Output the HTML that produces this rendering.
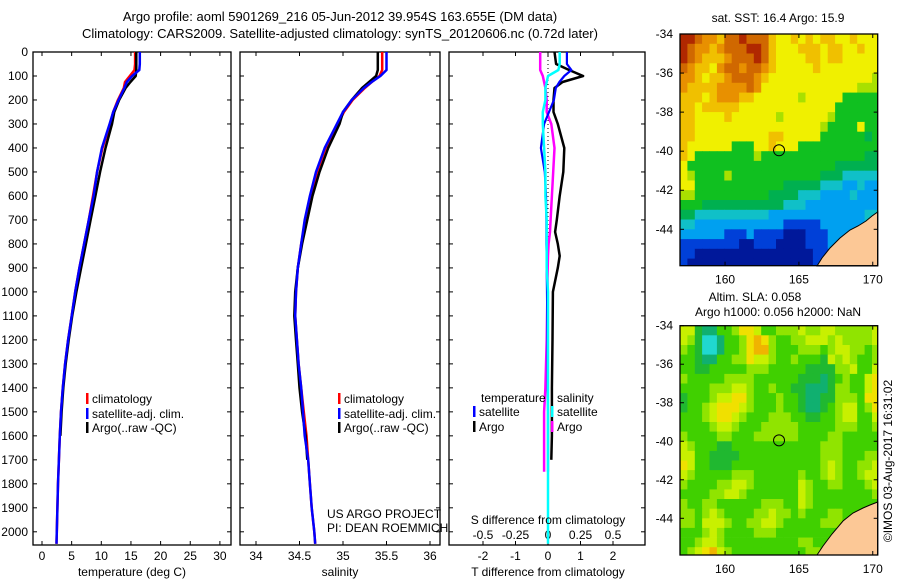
<!DOCTYPE html>
<html><head><meta charset="utf-8">
<style>
html,body{margin:0;padding:0;background:#fff;}
svg{display:block;font-family:"Liberation Sans",sans-serif;}
text{font-size:12px;fill:#000;}
</style></head>
<body>
<svg id="fig" width="900" height="580" viewBox="0 0 900 580" xmlns="http://www.w3.org/2000/svg">
<text x="340" y="21" text-anchor="middle" style="font-size:13px">Argo profile: aoml 5901269_216 05-Jun-2012 39.954S 163.655E (DM data)</text>
<text x="340" y="38" text-anchor="middle" style="font-size:13px">Climatology: CARS2009. Satellite-adjusted climatology: synTS_20120606.nc (0.72d later)</text>
<g id="maps"></g>
<g id="plots"></g>
</svg>
<script>
// ---------- profile data ----------
var depths = [0,50,75,100,125,150,200,250,300,400,500,600,700,800,900,1000,1100,1200,1300,1400,1500,1600,1700,1800,1900,2000,2050];
var tempClim = [15.7,15.7,15.6,14.8,14.0,13.8,12.8,12.0,11.5,10.2,9.3,8.6,7.9,7.1,6.3,5.6,5.0,4.4,3.9,3.5,3.2,3.0,2.85,2.7,2.6,2.5,2.45];
var tempSat  = [16.5,16.5,16.4,15.2,14.3,13.9,12.9,12.0,11.4,10.1,9.3,8.7,7.9,7.1,6.3,5.6,5.0,4.4,3.9,3.5,3.2,3.0,2.85,2.7,2.6,2.5,2.45];
var tempArgo = [15.9,15.9,15.9,15.8,14.9,14.1,13.0,12.2,11.8,10.7,9.8,9.0,8.2,7.4,6.6,5.8,5.1,4.5,4.0,3.6,3.3,3.1,null,null,null,null,null];
var salClim = [35.45,35.45,35.45,35.42,35.33,35.25,35.11,35.01,34.94,34.80,34.70,34.63,34.57,34.52,34.48,34.46,34.45,34.47,34.49,34.52,34.55,34.58,34.60,34.62,34.64,34.67,34.68];
var salSat  = [35.50,35.50,35.50,35.43,35.33,35.24,35.10,35.00,34.93,34.79,34.69,34.62,34.56,34.52,34.48,34.46,34.45,34.47,34.49,34.52,34.54,34.56,34.60,34.62,34.64,34.67,34.68];
var salArgo = [35.40,35.40,35.40,35.38,35.30,35.22,35.10,35.00,34.96,34.83,34.73,34.65,34.59,34.53,34.48,34.45,34.44,34.46,34.48,34.50,34.53,34.57,34.59,null,null,null,null];
var diffDepths = [0,50,75,100,125,150,200,250,300,400,500,600,700,750,800,850,900,1000,1200,1400,1500,1600,1700,1750,1800,1900,2000,2050];
var dTsat  = [0.58,0.58,0.72,0.5,0.35,0.24,0.18,0.03,-0.12,-0.22,-0.1,-0.06,-0.05,-0.05,-0.05,-0.04,-0.04,-0.03,-0.02,-0.01,0.0,0.0,0.0,0.0,null,null,null,null];
var dTargo = [0.2,0.25,0.65,1.08,0.45,0.2,0.17,0.17,0.3,0.5,0.47,0.36,0.27,0.22,0.3,0.36,0.3,0.15,0.14,0.12,0.12,0.12,0.1,null,null,null,null,null];
var dSsat  = [0.09,0.09,0.08,0.0,-0.01,-0.02,-0.02,-0.04,-0.04,-0.03,-0.02,-0.02,-0.01,-0.01,-0.01,-0.01,-0.01,0.0,0.0,0.0,0.0,0.0,0.0,0.0,0.0,0.0,0.0,0.0];
var dSargo = [-0.06,-0.06,-0.06,-0.04,-0.03,-0.02,-0.01,-0.01,0.025,0.05,0.04,0.03,0.02,0.015,0.005,0.0,-0.002,-0.005,-0.01,-0.02,-0.03,-0.03,-0.03,-0.03,null,null,null,null];
var depthTicks = [0,100,200,300,400,500,600,700,800,900,1000,1100,1200,1300,1400,1500,1600,1700,1800,1900,2000];
var tempTicks = [0,5,10,15,20,25,30];
var salTicks = [34,34.5,35,35.5,36];
var dTTicks = [-2,-1,0,1,2];
var dSTicks = [-0.5,-0.25,0,0.25,0.5];

// ---------- map data (colour index per 0.5 deg cell, rows from -34 southward, cols from 157E) ----------
var sstRows = [
"bba998aabaaa877878788778777","ba9989aaabba877788878877877","ba98889aaaba877778878877777",
"a98879aa9aa9877777877777777","9987889aaa98777777777777776","988889999a97777777777777666",
"888789998877777767777755555","887888887777777777777555555","887777877777767777776555555",
"887777777777777777765555755","887777777777887777755555545","877777755577877755555555555",
"875555555565555555555555544","755555555555555555555444444","765555655555555555544433333",
"775555555555554444433322322","665555555555444433322223222","555444444444443332222222222",
"443333333333222222222222233","332222222222221111122222233","222222111211110001112222333",
"111111110011100001112222333","110000000000000000111223333","100000000000000000112233333"];
var sstColors = {"0":"#00189a","1":"#0040d8","2":"#00a0f0","3":"#10c0c8","4":"#00b050","5":"#10c020","6":"#a8e000","7":"#f0f000","8":"#f0c000","9":"#e89000","a":"#d06800","b":"#b02800"};
var slaRows = [
"552113346653344454455444445","542001334676433445554544445","432001334677433344434554434",
"332113344655433433325454334","332233333444333332222445335","433333444433333322212343356",
"333344455433433221112443356","233345566433343321122444366","233456665433343321123455346",
"333456654333444332233455335","333345543334444433333444334","433334433344444433334433333",
"543332233333333333344433333","553322223333333333344433344","653322233333333333345433445",
"543333344433333343345433455","433334455433333354334433345","333344554333333354333333334",
"433443333334443354333333333","443454333344544343334433333","443555433445543333344433333",
"333454333344433333333333333","334554333333333344333333333","345675433333333334433333333"];
var slaColors = {"0":"#20d8d0","1":"#10b070","2":"#20b830","3":"#40d000","4":"#90e400","5":"#c8f000","6":"#f0e000","7":"#f0b400"};
var mapLonTicks = [160,165,170];
var mapLatTicks = [-34,-36,-38,-40,-42,-44];
var argoLon = 163.655, argoLat = -39.954;

var NS = "http://www.w3.org/2000/svg";
function mk(tag, attrs, parent){var e=document.createElementNS(NS,tag);for(var k in attrs)e.setAttribute(k,attrs[k]);parent.appendChild(e);return e;}
var plots = document.getElementById('plots');
var maps = document.getElementById('maps');

var yD = function(d){return 52 + d*0.2399;};
var Y0 = 52, Y1 = 545;
var xT = function(t){return 42 + 5.93*t;};
var xS = function(s){return 256 + 87*(s-34);};
var xDT = function(v){return 548 + 32.5*v;};
var xDS = function(v){return 548 + 130*v;};

function pathFrom(ds, vals, xf){
  var p="", pen=false;
  for(var i=0;i<ds.length;i++){
    if(vals[i]===null){pen=false;continue;}
    p += (pen?"L":"M")+xf(vals[i]).toFixed(1)+","+yD(ds[i]).toFixed(1);
    pen=true;
  }
  return p;
}

function panel(name, x0, x1, ticks, xf, labels){
  var g = mk('g',{},plots);
  
  
  var r = mk('rect',{x:x0,y:Y0,width:x1-x0,height:Y1-Y0,fill:'none',stroke:'#000','stroke-width':1.3},g);
  
  
  depthTicks.forEach(function(d){
    mk('line',{x1:x0,x2:x0+4,y1:yD(d),y2:yD(d),stroke:'#000'},g);
    mk('line',{x1:x1-4,x2:x1,y1:yD(d),y2:yD(d),stroke:'#000'},g);
  });
  ticks.forEach(function(t){
    var x = xf(t);
    mk('line',{x1:x,x2:x,y1:Y0,y2:Y0+4,stroke:'#000'},g);
    mk('line',{x1:x,x2:x,y1:Y1-4,y2:Y1,stroke:'#000'},g);
    if(labels){
      var tx = mk('text',{x:x,y:Y1+15,'text-anchor':'middle'},g);
      tx.textContent = String(t);
      
      
    }
  });
  return g;
}
function series(g, name, ds, vals, xf, color, w, dash){
  var p = mk('path',{d:pathFrom(ds,vals,xf),fill:'none',stroke:color,'stroke-width':w,'stroke-linejoin':'round'},g);
  if(dash) p.setAttribute('stroke-dasharray',dash);
  
  
}
function label(g, name, x, y, txt, anchor){
  var t = mk('text',{x:x,y:y,'text-anchor':anchor||'start'},g);
  t.textContent = txt;
  
  
  return t;
}
function legendEntry(g, name, x, y, color, txt){
  var b = mk('rect',{x:x,y:y-10,width:2.5,height:11,fill:color},g);
  
  
  label(g, name, x+6, y, txt);
}

// depth labels
depthTicks.forEach(function(d){
  var t = mk('text',{x:28,y:yD(d)+4,'text-anchor':'end'},plots);
  t.textContent = String(d);
  
  
});

// temperature panel
var gT = panel('temperature', 33, 231, tempTicks, xT, true);
series(gT,'temp-climatology-line',depths,tempClim,xT,'#ff0000',2.5);
series(gT,'temp-argo-line',depths,tempArgo,xT,'#000000',2.5);
series(gT,'temp-satellite-line',depths,tempSat,xT,'#0000ff',2.5);
label(gT,'temperature-axis-title',132,576,'temperature (deg C)','middle');
legendEntry(gT,'legend-climatology',86,403,'#ff0000','climatology');
legendEntry(gT,'legend-satellite-adj',86,418,'#0000ff','satellite-adj. clim.');
legendEntry(gT,'legend-argo',86,432,'#000000','Argo(..raw -QC)');

// salinity panel
var gS = panel('salinity', 240, 440, salTicks, xS, true);
series(gS,'sal-climatology-line',depths,salClim,xS,'#ff0000',2.5);
series(gS,'sal-argo-line',depths,salArgo,xS,'#000000',2.5);
series(gS,'sal-satellite-line',depths,salSat,xS,'#0000ff',2.5);
label(gS,'salinity-axis-title',340,576,'salinity','middle');
legendEntry(gS,'legend-sal-climatology',338,403,'#ff0000','climatology');
legendEntry(gS,'legend-sal-satellite-adj',338,418,'#0000ff','satellite-adj. clim.');
legendEntry(gS,'legend-sal-argo',338,432,'#000000','Argo(..raw -QC)');
label(gS,'project-label',327,518,'US ARGO PROJECT');
label(gS,'pi-label',327,532,'PI: DEAN ROEMMICH');

// difference panel
var gD = panel('difference', 449, 645, dTTicks, xDT, true);
dSTicks.forEach(function(t){
  var tx = label(gD,'s-diff-tick-label',xDS(t),539,String(t),'middle');
});
var zl = mk('line',{x1:548,x2:548,y1:Y0,y2:Y1,stroke:'#000','stroke-width':1,'stroke-dasharray':'1,3'},gD);


series(gD,'t-diff-argo-line',diffDepths,dTargo,xDT,'#000000',2.5);
series(gD,'s-diff-argo-line',diffDepths,dSargo,xDS,'#ff00ff',2.5);
series(gD,'t-diff-satellite-line',diffDepths,dTsat,xDT,'#0000ff',2.2);
series(gD,'s-diff-satellite-line',diffDepths,dSsat,xDS,'#00ffff',2.5);
label(gD,'s-diff-axis-title',548,524,'S difference from climatology','middle');
label(gD,'t-diff-axis-title',548,576,'T difference from climatology','middle');
label(gD,'legend-temperature-header',481,402,'temperature');
legendEntry(gD,'legend-t-satellite',473,416,'#0000ff','satellite');
legendEntry(gD,'legend-t-argo',473,431,'#000000','Argo');
label(gD,'legend-salinity-header',557,402,'salinity');
legendEntry(gD,'legend-s-satellite',551,416,'#00ffff','satellite');
legendEntry(gD,'legend-s-argo',551,431,'#ff00ff','Argo');

// ---------- maps ----------
function drawMap(name, rows, colors, top, bottom, latPerPx, titleLines, land){
  var X0=680, X1=877.7, lon0=156.95, pxLon=14.77;
  var g = mk('g',{},maps);
  
  
  var yL = function(lat){return top + (-34 - lat)*latPerPx;};
  var xL = function(lon){return X0 + (lon-lon0)*pxLon;};
  var cw = 0.5*pxLon, ch = 0.5*latPerPx;
  for(var r=0;r<rows.length;r++){
    for(var c=0;c<rows[r].length;c++){
      var x = xL(157+0.5*c) - 0.75, y = yL(-34-0.5*r);
      var w = Math.min(cw+0.4, X1-x), h = Math.min(ch+0.4, bottom-y);
      if(c===0){ w += x-X0; x = X0; }
      if(h<=0||w<=0) continue;
      var cell = mk('rect',{x:x.toFixed(1),y:y.toFixed(1),width:w.toFixed(1),height:h.toFixed(1),fill:colors[rows[r][c]]},g);
      
      
    }
  }
  var lp = mk('polygon',{points:land,fill:'#fcc896',stroke:'#000','stroke-width':1},g);
  
  
  var fr = mk('rect',{x:X0,y:top,width:X1-X0,height:bottom-top,fill:'none',stroke:'#000','stroke-width':1.3},g);
  
  
  mapLatTicks.forEach(function(lat){
    var y=yL(lat);
    mk('line',{x1:X0,x2:X0+4,y1:y,y2:y,stroke:'#000'},g);
    mk('line',{x1:X1-4,x2:X1,y1:y,y2:y,stroke:'#000'},g);
    label(g,name+'-lat-label',673,y+4,String(lat),'end');
  });
  mapLonTicks.forEach(function(lon){
    var x=xL(lon);
    mk('line',{x1:x,x2:x,y1:top,y2:top+4,stroke:'#000'},g);
    mk('line',{x1:x,x2:x,y1:bottom-4,y2:bottom,stroke:'#000'},g);
    label(g,name+'-lon-label',x,bottom+18,String(lon),'middle');
  });
  var m = mk('circle',{cx:xL(argoLon),cy:yL(argoLat),r:5.5,fill:'none',stroke:'#000','stroke-width':1},g);
  
  
  titleLines.forEach(function(t){ label(g,name+'-title',t[0],t[1],t[2],'middle'); });
}
drawMap('sst-map', sstRows, sstColors, 34, 265.7, 19.53,
  [[778,22,'sat. SST: 16.4  Argo: 15.9']],
  "817,266 822,258 830,248 840,238 850,230 858,226 866,221 872,216 877.7,212 877.7,266");
drawMap('sla-map', slaRows, slaColors, 325.7, 555, 19.26,
  [[755,301,'Altim. SLA: 0.058'],[778,316,'Argo h1000: 0.056 h2000: NaN']],
  "817,555 823,546 832,534 843,521 853,513 863,508 870,505 877.7,502 877.7,555");
var stamp = mk('text',{x:0,y:0,transform:'translate(892,461) rotate(-90)','text-anchor':'middle'},maps);
stamp.textContent = '\u00A9IMOS 03-Aug-2017 16:31:02';


</script>
</body></html>
